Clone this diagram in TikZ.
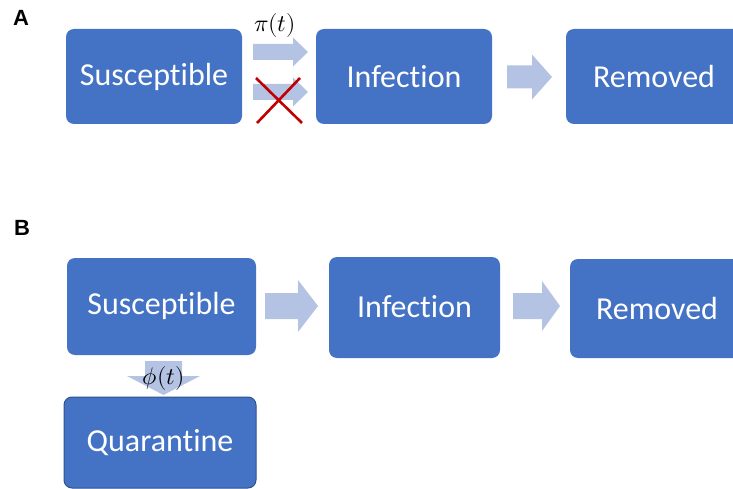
\documentclass[tikz,border=0pt]{standalone}
\usepackage{unicode-math}
\setmainfont{Carlito}[Ligatures=NoCommon]
\newfontfamily\panelfont{Liberation Sans}
\definecolor{boxblue}{HTML}{4472C4}
\definecolor{boxedge}{HTML}{2F528F}
\definecolor{arrowfill}{HTML}{B4C3E3}
\definecolor{xred}{HTML}{C00000}
\tikzset{
  stage/.style={fill=boxblue, draw=none, rounded corners=8pt, text=white, font=\fontsize{32}{36}\selectfont},
  panel/.style={font=\panelfont\fontsize{22}{26}\selectfont\bfseries, text=black},
  rate/.style={font=\fontsize{24}{28}\selectfont, text=black},
}
% right block arrow: x1 x2 yc shafthalf headhalf headlen
\newcommand{\rblk}[6]{\fill[arrowfill] (#1,#3-#4) -- (#2-#6,#3-#4) -- (#2-#6,#3-#5) -- (#2,#3) -- (#2-#6,#3+#5) -- (#2-#6,#3+#4) -- (#1,#3+#4) -- cycle;}
\begin{document}
\begin{tikzpicture}[x=1pt,y=-1pt]
\useasboundingbox (0,0) rectangle (733,489);
% Panel A
\node[panel] (la) at (21,18) {A};
\draw[stage] (66,29) rectangle (242,124);
\node[stage, fill=none] (sa) at (154,76.5) {Susceptible};
\draw[stage] (316,29) rectangle (492,124);
\node[stage, fill=none] (ia) at (404,76.5) {Infection};
\draw[stage] (566,29) rectangle (745,124);
\node[stage, fill=none] (ra) at (654,76.5) {Removed};
\rblk{253}{308}{52}{8}{14.5}{15}
\rblk{253}{308}{92}{8}{14.5}{15}
\node[rate] (pi) at (275,26) {$\pi(t)$};
\draw[xred, line width=2.6pt] (256,78) -- (302,123);
\draw[xred, line width=2.6pt] (300,78) -- (257,123);
\rblk{507}{552}{77}{11.5}{22.5}{20}
% Panel B
\node[panel] (lb) at (22,228) {B};
\draw[stage] (67,258) rectangle (256,355);
\node[stage, fill=none] (sb) at (161.5,306) {Susceptible};
\draw[stage] (329,257) rectangle (500,358);
\node[stage, fill=none] (ib) at (414.5,307) {Infection};
\draw[stage] (570,259) rectangle (745,358);
\node[stage, fill=none] (rb) at (657,308) {Removed};
\rblk{265}{318}{306}{13}{26}{20}
\rblk{513}{560}{306}{13}{25}{18}
\fill[arrowfill] (145,361) -- (182,361) -- (182,376) -- (200,376) -- (163.5,395) -- (127,376) -- (145,376) -- cycle;
\node[rate] (phi) at (163.5,378) {$\phi(t)$};
\draw[stage, draw=boxedge, line width=1pt] (64,397) rectangle (256,488);
\node[stage, fill=none] (qb) at (160,442.5) {Quarantine};
\end{tikzpicture}
\end{document}
